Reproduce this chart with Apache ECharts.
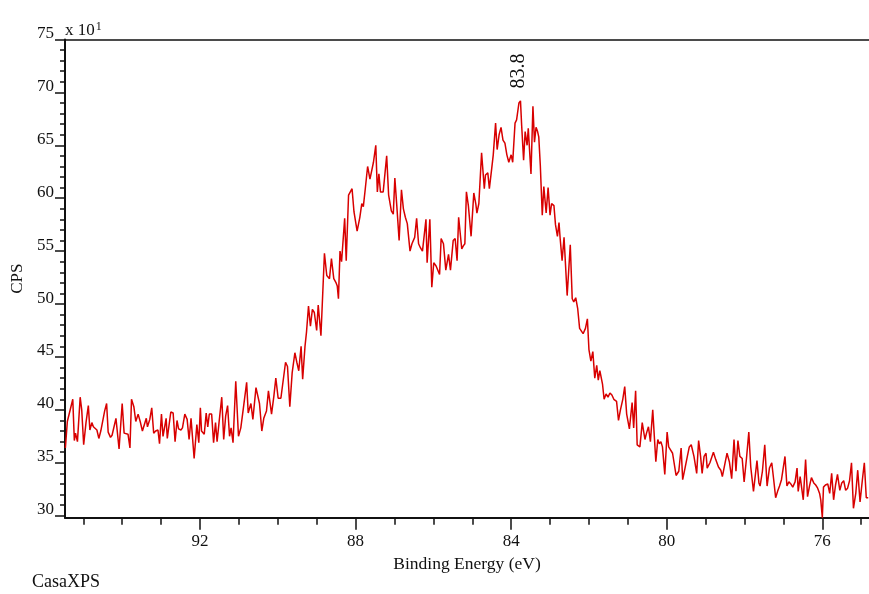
<!DOCTYPE html>
<html>
<head>
<meta charset="utf-8">
<script src="https://cdn.jsdelivr.net/npm/echarts@6/dist/echarts.min.js"></script>
<style>
html,body{margin:0;padding:0;background:#fff;}
#c{width:869px;height:594px;}
</style>
</head>
<body>
<div id="c"></div>
<script>
// Binding energy (eV) of each sample
const energy = [
95.46,95.41,95.36,95.27,95.23,95.20,95.15,95.08,95.04,94.99,
94.93,94.87,94.83,94.78,94.74,94.69,94.65,94.60,94.55,94.50,
94.45,94.40,94.36,94.30,94.26,94.21,94.16,94.08,94.00,93.95,
93.90,93.85,93.80,93.76,93.70,93.65,93.59,93.53,93.48,93.43,
93.38,93.35,93.29,93.24,93.19,93.14,93.08,93.04,92.99,92.95,
92.87,92.84,92.75,92.69,92.64,92.59,92.55,92.49,92.45,92.39,
92.33,92.28,92.23,92.15,92.08,92.03,91.99,
91.96,91.89,91.84,91.80,91.76,91.70,91.65,91.60,91.56,91.51,
91.44,91.39,91.34,91.29,91.24,91.20,91.15,91.08,91.01,90.95,
90.89,90.80,90.76,90.69,90.64,90.59,90.56,90.47,90.41,90.36,
90.29,90.24,90.20,90.16,90.10,90.05,89.99,89.92,89.87,89.80,
89.75,89.69,89.63,89.56,89.51,89.46,89.40,89.36,89.30,89.26,
89.21,89.16,89.11,89.06,89.00,88.96,88.89,88.80,88.74,88.67,88.62,
88.56,88.50,88.47,88.44,88.40,88.36,88.28,88.24,88.18,88.09,
88.04,88.01,87.96,87.89,87.84,87.80,87.75,87.69,87.63,87.59,
87.54,87.48,87.44,87.40,87.36,87.29,87.20,87.15,87.08,87.03,
86.99,86.94,86.88,86.82,86.77,86.72,86.67,86.60,86.55,86.48,
86.43,86.38,86.33,86.28,86.19,86.16,86.09,86.04,85.99,85.93,
85.88,85.84,85.80,85.74,85.68,85.61,85.56,85.49,85.44,85.39,
85.35,85.27,85.23,85.19,85.15,
85.10,85.03,84.96,84.91,84.88,84.83,84.76,84.69,84.66,84.60,
84.56,84.50,84.46,84.40,84.36,84.31,84.26,84.21,84.16,84.11,
84.06,84.00,83.96,83.90,83.86,83.80,83.76,83.73,83.68,83.64,
83.59,83.56,83.49,83.44,83.40,83.36,83.32,83.29,83.25,83.20,
83.16,83.10,83.05,83.00,82.96,82.90,82.86,82.81,82.77,82.74,
82.69,82.64,82.56,82.48,82.43,82.39,82.34,82.29,82.24,82.19,
82.15,82.09,82.04,82.00,
81.95,81.90,81.85,81.80,81.76,
81.72,81.65,81.61,81.56,81.51,81.46,81.41,81.36,81.29,81.24,
81.19,81.13,81.08,81.03,80.96,80.89,80.85,80.80,80.76,80.69,
80.63,80.59,80.56,80.52,80.47,80.42,80.36,80.28,80.23,80.19,
80.15,80.11,80.05,79.99,79.95,79.90,79.85,79.82,79.76,79.69,
79.63,79.59,79.53,79.47,79.42,79.37,79.30,79.23,79.18,79.13,
79.09,79.04,78.99,78.96,78.89,78.80,78.74,78.67,78.61,78.57,
78.50,78.45,78.39,78.33,78.27,78.22,78.17,78.12,
78.06,78.01,77.95,77.89,77.84,77.77,77.68,77.63,77.60,77.54,
77.48,77.42,77.36,77.30,77.25,77.20,77.15,77.10,77.05,77.01,
76.96,76.91,76.86,76.81,76.76,76.70,76.65,76.62,76.57,76.49,
76.43,76.38,76.33,76.28,76.22,76.17,76.12,76.07,76.04,76.00,
75.97,75.92,75.86,75.81,75.76,75.71,75.66,75.61,75.55,75.50,
75.45,75.40,75.35,75.30,75.25,75.20,75.14,75.09,75.03,74.97,
74.92,74.87,74.82
];
// CPS (x 10^1) of each sample
const cps = [
36.4,38.9,38.8,41.0,37.1,37.8,37.0,41.2,40.0,36.7,
38.8,40.4,38.1,38.8,38.4,38.4,38.1,37.3,38.0,37.9,
39.9,40.6,37.9,37.4,37.6,37.6,39.2,36.3,40.6,37.8,
37.8,37.7,36.4,41.0,40.3,38.9,39.6,38.8,38.0,38.0,
39.2,38.4,39.1,40.2,37.8,38.0,38.1,36.8,39.6,37.5,
39.2,37.3,39.8,39.7,37.0,39.0,38.2,38.1,38.3,39.6,
39.1,37.2,39.2,35.4,38.6,36.9,40.2,
38.0,37.7,39.7,38.4,39.6,39.6,36.9,38.8,37.0,38.8,
41.2,37.2,39.4,40.4,37.5,38.3,36.9,42.7,37.5,38.3,
40.0,42.6,39.7,40.6,39.1,39.1,42.1,40.6,38.0,39.2,
39.9,41.8,40.7,39.6,41.3,43.0,41.1,41.1,41.1,44.5,
44.1,40.3,43.5,45.4,44.5,43.7,46.0,42.9,46.0,47.4,
49.8,47.9,49.5,49.2,47.5,49.9,47.0,54.8,52.7,52.4,54.3,
52.4,52.0,51.7,50.5,55.0,54.0,58.1,54.1,60.3,60.9,
58.7,58.7,56.9,58.2,59.5,59.2,60.9,63.0,61.8,61.8,
63.4,65.0,60.6,62.3,60.6,60.6,64.0,60.3,58.8,58.5,
61.9,59.3,56.0,60.8,59.0,58.2,57.6,55.0,55.7,56.3,
58.1,55.7,55.3,55.0,58.0,53.9,58.0,51.6,53.9,53.6,
53.6,52.8,56.2,55.7,53.2,54.7,53.2,56.0,56.2,54.1,
58.2,55.2,55.5,55.7,60.6,
59.3,56.4,60.5,59.5,58.6,59.5,64.3,60.9,62.2,62.4,
60.9,62.8,64.1,67.1,64.6,66.0,66.7,65.5,65.2,64.1,
63.4,64.1,63.4,67.1,67.4,69.0,69.2,66.9,63.6,66.3,
65.0,66.6,62.3,68.7,65.3,66.7,66.3,65.8,63.1,58.4,
61.1,58.6,61.0,58.4,59.5,59.3,57.5,56.4,57.7,56.2,
54.1,56.3,50.8,55.6,50.5,50.2,50.6,49.6,47.7,47.7,
47.2,47.7,48.6,45.7,
44.6,45.5,43.0,44.2,42.8,
43.7,42.4,41.0,41.5,41.2,41.6,41.4,41.0,40.8,39.0,
40.0,41.0,42.2,39.6,38.2,40.7,38.3,41.8,36.7,36.5,
38.8,38.9,37.2,37.8,38.4,37.0,40.0,35.1,37.2,36.8,
37.0,36.5,33.9,37.9,36.5,36.5,35.9,35.9,33.8,34.2,
36.4,33.4,34.5,35.6,36.5,36.7,35.6,34.0,37.1,35.6,
34.0,35.6,35.9,34.5,35.0,36.0,35.3,34.6,34.3,33.7,
35.0,35.9,35.1,33.5,37.2,34.2,37.1,35.6,
35.4,33.2,35.4,37.9,34.6,32.3,35.2,33.1,32.8,34.2,
36.7,32.8,34.5,35.0,33.4,31.7,32.3,32.8,33.4,33.3,
35.6,32.8,33.2,33.0,32.7,33.2,34.5,32.3,33.7,31.5,
35.3,31.8,32.8,33.6,33.1,32.9,32.6,32.1,31.5,29.8,
32.7,32.9,33.0,32.1,34.0,31.5,32.9,33.9,32.4,33.1,
33.3,32.4,32.6,33.3,35.0,30.7,32.1,34.3,31.3,33.4,
35.0,31.7,31.7
];
const xMajorTicks = [76, 80, 84, 88, 92];
const xMinorTicks = [75,76,77,78,79,80,81,82,83,84,85,86,87,88,89,90,91,92,93,94,95];
const yMajorTicks = [30, 35, 40, 45, 50, 55, 60, 65, 70, 75];
const yMinorTicks = [30,31,32,33,34,35,36,37,38,39,40,41,42,43,44,45,46,47,48,49,50,51,52,53,54,55,56,57,58,59,60,61,62,63,64,65,66,67,68,69,70,71,72,73,74,75];
const peakLabel = '83.8';
const peakEnergy = 83.8;
const xRange = [74.8, 95.47];
const yRange = [29.81, 75];

const FONT = '"Liberation Serif", "Times New Roman", serif';
const INK = '#111';
const points = energy.map((e, i) => [e, cps[i]]);
const peakValue = Math.max.apply(null, cps);

const chart = echarts.init(document.getElementById('c'), null, {renderer: 'canvas'});
chart.setOption({
  animation: false,
  backgroundColor: '#fff',
  grid: {left: 65, right: 0, top: 39.5, bottom: 76.3, containLabel: false},
  xAxis: [
    {
      type: 'value', inverse: true, min: xRange[0], max: xRange[1], position: 'bottom',
      axisLine: {show: true, onZero: false, lineStyle: {color: INK, width: 2}},
      axisTick: {show: true, customValues: xMajorTicks, length: 12, lineStyle: {color: INK, width: 1.5}},
      axisLabel: {show: true, customValues: xMajorTicks, fontFamily: FONT, fontSize: 17, color: INK, margin: 15},
      splitLine: {show: false},
      name: 'Binding Energy (eV)', nameLocation: 'middle', nameGap: 38,
      nameTextStyle: {fontFamily: FONT, fontSize: 17.5, color: INK}
    },
    {
      type: 'value', inverse: true, min: xRange[0], max: xRange[1], position: 'bottom',
      axisLine: {show: false, onZero: false},
      axisTick: {show: true, customValues: xMinorTicks, length: 7, lineStyle: {color: INK, width: 1.5}},
      axisLabel: {show: false}, splitLine: {show: false}
    },
    {
      type: 'value', inverse: true, min: xRange[0], max: xRange[1], position: 'top',
      axisLine: {show: true, onZero: false, lineStyle: {color: INK, width: 1.5}},
      axisTick: {show: false}, axisLabel: {show: false}, splitLine: {show: false}
    }
  ],
  yAxis: [
    {
      type: 'value', min: yRange[0], max: yRange[1], position: 'left',
      axisLine: {show: true, onZero: false, lineStyle: {color: INK, width: 2}},
      axisTick: {show: true, customValues: yMajorTicks, length: 10, lineStyle: {color: INK, width: 1.5}},
      axisLabel: {show: true, customValues: yMajorTicks, fontFamily: FONT, fontSize: 17, color: INK, margin: 11,
                  verticalAlign: 'bottom', lineHeight: 12},
      splitLine: {show: false},
      name: 'CPS', nameLocation: 'middle', nameGap: 38, nameRotate: 90,
      nameTextStyle: {fontFamily: FONT, fontSize: 17, color: INK}
    },
    {
      type: 'value', min: yRange[0], max: yRange[1], position: 'left',
      axisLine: {show: false, onZero: false},
      axisTick: {show: true, customValues: yMinorTicks, length: 5, lineStyle: {color: INK, width: 1.5}},
      axisLabel: {show: false}, splitLine: {show: false}
    }
  ],
  series: [{
    type: 'line', xAxisIndex: 0, yAxisIndex: 0, data: points,
    showSymbol: false, symbol: 'none', smooth: false,
    lineStyle: {color: '#d80000', width: 1.5},
    markPoint: {
      symbol: 'circle', symbolSize: 1, itemStyle: {color: 'rgba(0,0,0,0)'},
      data: [{coord: [peakEnergy, peakValue], value: peakLabel}],
      label: {show: true, formatter: peakLabel, position: 'top', distance: 12, rotate: 90,
              align: 'left', verticalAlign: 'middle',
              fontFamily: FONT, fontSize: 20, color: INK}
    }
  }],
  graphic: [
    {type: 'text', left: 65, top: 21, style: {
      text: '{a|x 10}{b|1}', fill: INK,
      rich: {a: {fontFamily: FONT, fontSize: 17, fill: INK}, b: {fontFamily: FONT, fontSize: 12, fill: INK, verticalAlign: 'top', padding: [0,0,8,1]}}
    }},
    {type: 'text', left: 32, top: 573, style: {text: 'CasaXPS', fontFamily: FONT, fontSize: 18, fill: INK}}
  ]
});
</script>
</body>
</html>
